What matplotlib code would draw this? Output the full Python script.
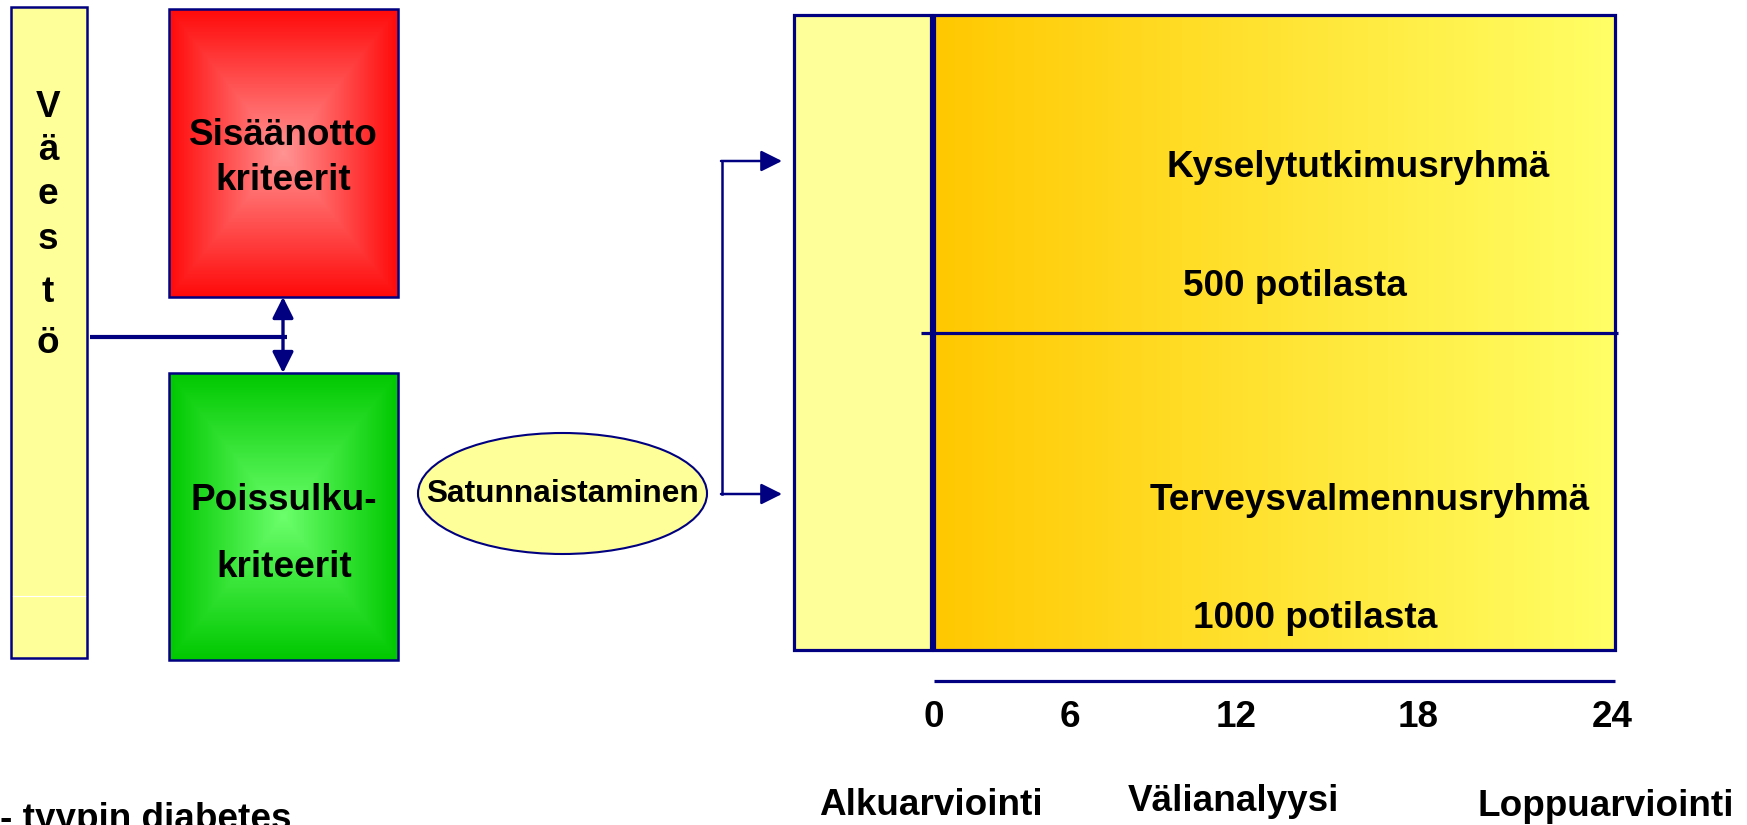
import matplotlib.pyplot as plt
import numpy as np
from matplotlib.patches import Rectangle, Ellipse
from matplotlib.colors import to_rgb

# texts / values of the diagram
population_letters = ["V", "ä", "e", "s", "t", "ö"]
inclusion_text = ["Sisäänotto", "kriteerit"]
exclusion_text = ["Poissulku-", "kriteerit"]
randomise_text = "Satunnaistaminen"
group_names = ["Kyselytutkimusryhmä", "Terveysvalmennusryhmä"]
group_sizes = [500, 1000]
months = [0, 6, 12, 18, 24]
phase_names = ["Alkuarviointi", "Välianalyysi", "Loppuarviointi"]
footer_text = "- tyypin diabetes"

# layout (pixels, y downwards)
letter_y = [117, 160, 204, 249, 302, 353]
month_x = [934, 1070, 1236, 1418, 1612]
phase_x = [931, 1233, 1606]
phase_y = [815, 811, 816]
group_name_pos = [(1358, 177), (1370, 510)]
group_size_pos = [(1295, 296), (1315, 628)]

navy = "#000080"
pale = "#FFFF99"

plt.rcParams['font.family'] = ['Liberation Sans', 'DejaVu Sans']
plt.rcParams['font.weight'] = 'bold'

W, H = 1747, 825
fig = plt.figure(figsize=(W / 100, H / 100), dpi=100)
ax = fig.add_axes([0, 0, 1, 1])


def rectGradient(x0, y0, x1, y1, cCenter, cEdge):
    n = 200
    u = np.linspace(-1, 1, n)
    uu, vv = np.meshgrid(u, u)
    t = np.maximum(np.abs(uu), np.abs(vv))
    t = t[:, :, None]
    c1 = np.array(to_rgb(cCenter))
    c2 = np.array(to_rgb(cEdge))
    img = c1 * (1 - t) + c2 * t
    ax.imshow(img, extent=(x0, x1, y1, y0), origin='upper', aspect='auto', zorder=1)
    ax.add_patch(Rectangle((x0, y0), x1 - x0, y1 - y0, fill=False, ec=navy, lw=1.8, zorder=2))


def horizGradient(x0, y0, x1, y1, cLeft, cRight):
    n = 300
    t = np.linspace(0, 1, n)[None, :, None]
    c1 = np.array(to_rgb(cLeft))
    c2 = np.array(to_rgb(cRight))
    img = np.repeat(c1 * (1 - t) + c2 * t, 2, axis=0)
    ax.imshow(img, extent=(x0, x1, y1, y0), origin='upper', aspect='auto', zorder=1)
    ax.add_patch(Rectangle((x0, y0), x1 - x0, y1 - y0, fill=False, ec=navy, lw=2.3, zorder=2))


# population bar
ax.add_patch(Rectangle((11, 7), 76, 651, fc=pale, ec=navy, lw=1.8, zorder=2))
ax.plot([13, 85], [596, 596], color="white", lw=0.8, zorder=3)
for letter, y in zip(population_letters, letter_y):
    ax.text(48, y, letter, ha='center', va='baseline', fontsize=26.6, zorder=4)

# inclusion / exclusion boxes
rectGradient(169, 9, 398, 297, "#FF9494", "#FF0A0A")
rectGradient(169, 373, 398, 660, "#6CFF6C", "#00C800")
ax.text(283.5, 145, inclusion_text[0], ha='center', va='baseline', fontsize=26.6, zorder=4)
ax.text(283.5, 190, inclusion_text[1], ha='center', va='baseline', fontsize=26.6, zorder=4)
ax.text(284, 510, exclusion_text[0], ha='center', va='baseline', fontsize=26.6, zorder=4)
ax.text(284, 577, exclusion_text[1], ha='center', va='baseline', fontsize=26.6, zorder=4)

# connectors
ax.plot([90, 287], [337, 337], color=navy, lw=3, solid_capstyle='butt', zorder=3)
ax.annotate('', xy=(283, 297), xytext=(283, 373),
            arrowprops=dict(arrowstyle='<|-|>', color=navy, lw=2.4,
                            mutation_scale=32, shrinkA=0, shrinkB=0), zorder=3)

# randomisation
ax.add_patch(Ellipse((562.5, 493.5), 289, 121, fc=pale, ec=navy, lw=1.5, zorder=2))
ax.text(563, 502, randomise_text, ha='center', va='baseline', fontsize=22.8, zorder=4)
ax.plot([722, 722], [161, 494], color=navy, lw=1.8, zorder=3)
for yy in [161, 494]:
    ax.annotate('', xy=(782, yy), xytext=(721, yy),
                arrowprops=dict(arrowstyle='-|>', color=navy, lw=1.8,
                                mutation_scale=32, shrinkA=0, shrinkB=0), zorder=3)

# study groups
ax.add_patch(Rectangle((794, 15), 137, 635, fc=pale, ec=navy, lw=2.3, zorder=2))
horizGradient(934, 15, 1615, 650, "#FFC800", "#FFFF66")
ax.plot([921, 1618], [333, 333], color=navy, lw=2.3, solid_capstyle='butt', zorder=3)
for name, pos in zip(group_names, group_name_pos):
    ax.text(pos[0], pos[1], name, ha='center', va='baseline', fontsize=26.6, zorder=4)
for size, pos in zip(group_sizes, group_size_pos):
    ax.text(pos[0], pos[1], "%d potilasta" % size, ha='center', va='baseline', fontsize=26.6, zorder=4)

# timeline
ax.plot([934, 1615], [681, 681], color=navy, lw=2.3, solid_capstyle='butt', zorder=3)
for m, x in zip(months, month_x):
    ax.text(x, 727, str(m), ha='center', va='baseline', fontsize=26.6, zorder=4)
for name, x, y in zip(phase_names, phase_x, phase_y):
    ax.text(x, y, name, ha='center', va='baseline', fontsize=26.6, zorder=4)

# partly cut off at the bottom edge, as in the original slide
ax.text(0, 829, footer_text, ha='left', va='baseline', fontsize=26.6, zorder=4)

ax.set_xlim(0, W)
ax.set_ylim(H, 0)
ax.axis('off')

fig.savefig("out.png", dpi=100, facecolor="white")
